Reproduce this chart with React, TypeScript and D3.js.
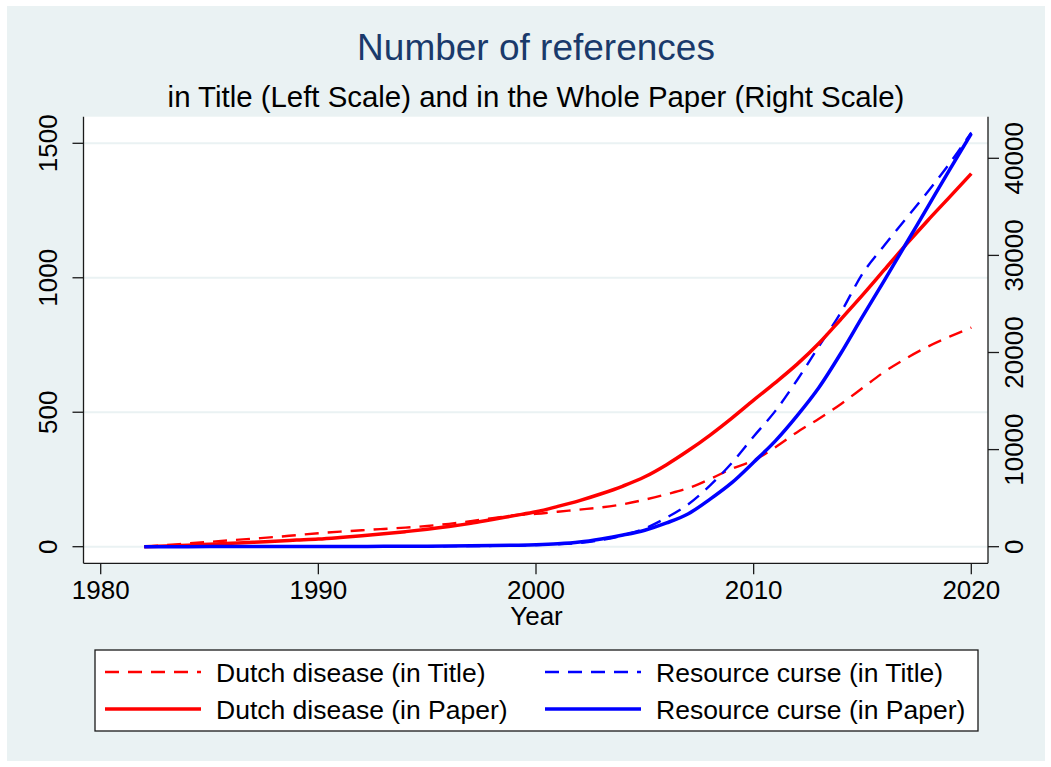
import React from "react";
import * as d3 from "d3";

const years = [1982,1983,1984,1985,1986,1987,1988,1989,1990,1991,1992,1993,1994,1995,1996,1997,1998,1999,2000,2001,2002,2003,2004,2005,2006,2007,2008,2009,2010,2011,2012,2013,2014,2015,2016,2017,2018,2019,2020];
// left scale (in Title)
const dutchTitle = [0,6,12,18,24,30,36,43,50,56,61,66,71,77,85,95,106,117,122,130,138,146,158,175,195,218,252,290,321,370,426,476,530,590,650,700,744,781,815];
const curseTitle = [0,0,0,0,0,0,0,0,0,0,1,1,1,1,2,2,3,4,6,9,14,25,42,68,108,158,228,312,410,505,620,745,870,1015,1120,1220,1320,1425,1540];
// right scale (in Paper)
const dutchPaper = [0,70,150,250,350,450,570,680,790,950,1130,1330,1550,1790,2070,2400,2800,3200,3600,4150,4750,5450,6250,7200,8450,9900,11500,13250,15100,16900,18800,20950,23400,25900,28500,31100,33600,36000,38420];
const cursePaper = [0,0,5,8,10,12,15,18,22,26,30,36,45,55,70,90,115,150,200,300,480,800,1200,1700,2450,3400,4900,6600,8700,10900,13500,16400,19900,23700,27400,31200,35000,38800,42550];

const xTicks = [1980,1990,2000,2010,2020];
const leftTicks = [0,500,1000,1500];
const rightTicks = [0,10000,20000,30000,40000];

const titleText = "Number of references";
const subtitleText = "in Title (Left Scale) and in the Whole Paper (Right Scale)";
const xLabel = "Year";

const series = [
  { name: "Dutch disease (in Title)", values: dutchTitle, axis: "left", color: "#ff0000", dashed: true },
  { name: "Resource curse (in Title)", values: curseTitle, axis: "left", color: "#0000ff", dashed: true },
  { name: "Dutch disease (in Paper)", values: dutchPaper, axis: "right", color: "#ff0000", dashed: false },
  { name: "Resource curse (in Paper)", values: cursePaper, axis: "right", color: "#0000ff", dashed: false },
];

const FONT = "'Liberation Sans', Arial, Helvetica, sans-serif";
const BG = "#eaf2f3";

export default function App() {
  const W = 1051, H = 767;
  const plot = { left: 83.5, right: 988, top: 116.7, bottom: 563.3 };
  const x = d3.scaleLinear().domain([1980, 2020]).range([100.7, 971.3]);
  const yL = d3.scaleLinear().domain([0, 1500]).range([546.7, 143.3]);
  const yR = d3.scaleLinear().domain([0, 40000]).range([546.7, 158.3]);

  const dash = "14,9";

  const paths = series.map((s) => {
    const ys = s.axis === "left" ? yL : yR;
    const line = d3.line<number>().x((_, i) => x(years[i])).y((v) => ys(v)).curve(d3.curveMonotoneX);
    return { ...s, d: line(s.values) || "" };
  });

  const legendItems = [
    { s: series[0], lx: 105, ly: 672 },
    { s: series[1], lx: 545, ly: 672 },
    { s: series[2], lx: 105, ly: 709 },
    { s: series[3], lx: 545, ly: 709 },
  ];

  return (
    <svg width={W} height={H} style={{ position: "absolute", left: 0, top: 0, background: "#fff" }} fontFamily={FONT}>
      <rect x={7} y={6} width={W - 13} height={H - 12} fill={BG} />
      <rect x={plot.left} y={plot.top} width={plot.right - plot.left} height={plot.bottom - plot.top} fill="#fff" />
      {leftTicks.map((t) => (
        <line key={"g" + t} x1={plot.left} x2={plot.right} y1={yL(t)} y2={yL(t)} stroke={BG} strokeWidth={2} />
      ))}
      <text x={536} y={60} textAnchor="middle" fontSize={37} fill="#1a3a6b">{titleText}</text>
      <text x={536} y={107} textAnchor="middle" fontSize={29.4} fill="#000">{subtitleText}</text>

      <g fill="none" strokeLinejoin="round">
        {paths.map((p) => (
          <path key={p.name} d={p.d} stroke={p.color} strokeWidth={p.dashed ? 2.4 : 3.5}
            strokeDasharray={p.dashed ? dash : undefined} />
        ))}
      </g>

      <g stroke="#1a1a1a" strokeWidth={1.3}>
        <line x1={plot.left} x2={plot.left} y1={plot.top} y2={plot.bottom} />
        <line x1={plot.right} x2={plot.right} y1={plot.top} y2={plot.bottom} />
        <line x1={plot.left} x2={plot.right} y1={plot.bottom} y2={plot.bottom} />
        {leftTicks.map((t) => (
          <line key={"lt" + t} x1={plot.left - 11} x2={plot.left} y1={yL(t)} y2={yL(t)} />
        ))}
        {rightTicks.map((t) => (
          <line key={"rt" + t} x1={plot.right} x2={plot.right + 11} y1={yR(t)} y2={yR(t)} />
        ))}
        {xTicks.map((t) => (
          <line key={"xt" + t} x1={x(t)} x2={x(t)} y1={plot.bottom} y2={plot.bottom + 11} />
        ))}
      </g>
      <g fontSize={26} fill="#000">
        {leftTicks.map((t) => (
          <text key={"ll" + t} transform={`translate(57,${yL(t)}) rotate(-90)`} textAnchor="middle">{t}</text>
        ))}
        {rightTicks.map((t) => (
          <text key={"rl" + t} transform={`translate(1023,${yR(t)}) rotate(-90)`} textAnchor="middle">{t}</text>
        ))}
        {xTicks.map((t) => (
          <text key={"xl" + t} x={x(t)} y={599} textAnchor="middle">{t}</text>
        ))}
        <text x={536.5} y={625} textAnchor="middle">{xLabel}</text>
      </g>

      <rect x={95} y={650} width={883} height={81} fill="#fff" stroke="#1a1a1a" strokeWidth={1.3} />
      {legendItems.map(({ s, lx, ly }) => (
        <g key={s.name}>
          <line x1={lx} x2={lx + 96} y1={ly} y2={ly} stroke={s.color} strokeWidth={s.dashed ? 2.4 : 3.5}
            strokeDasharray={s.dashed ? dash : undefined} />
          <text x={lx + 111} y={ly + 9.5} fontSize={26.5} fill="#000">{s.name}</text>
        </g>
      ))}
    </svg>
  );
}
